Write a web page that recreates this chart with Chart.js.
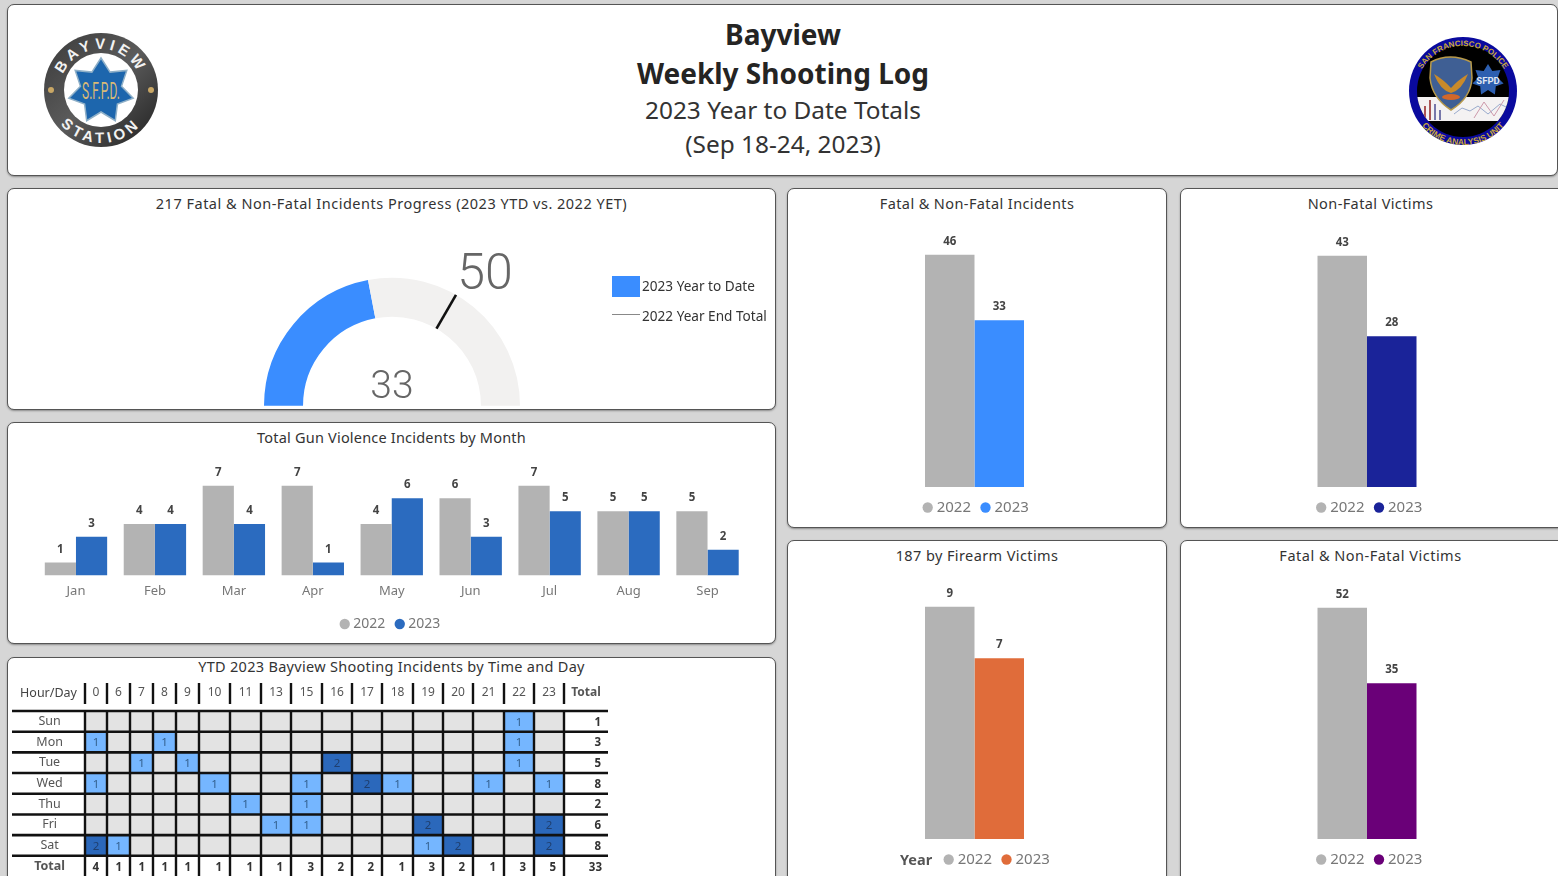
<!DOCTYPE html>
<html><head><meta charset="utf-8">
<script src="https://cdn.jsdelivr.net/npm/chart.js@4"></script>
<style>
html,body{margin:0;padding:0;width:1558px;height:876px;overflow:hidden;background:#d6d6d6;font-family:"Noto Sans",sans-serif;color:#252423}
.panel{position:absolute;background:#fff;border:1.5px solid #555;border-radius:7px;box-sizing:border-box;box-shadow:0 1px 2px rgba(0,0,0,.35)}
canvas{position:absolute;display:block}
.t{position:absolute;left:0;right:0;text-align:center;font-size:14.5px;letter-spacing:.4px;color:#333;white-space:nowrap;line-height:20px}
.abs{position:absolute;white-space:nowrap}
.h{position:absolute;left:4px;width:1558px;text-align:center;white-space:nowrap}
</style></head><body>
<div class="panel" style="left:7px;top:4px;width:1551px;height:172px"></div>
<div class="h" style="top:15px;font:700 28px 'Noto Sans';color:#252423">Bayview</div>
<div class="h" style="top:54px;font:700 28px 'Noto Sans';color:#252423">Weekly Shooting Log</div>
<div class="h" style="top:93px;font:400 24.4px 'Noto Sans';color:#333">2023 Year to Date Totals</div>
<div class="h" style="top:127px;font:400 24.4px 'Noto Sans';color:#333">(Sep 18-24, 2023)</div>
<svg id="logoA" class="abs" style="left:40px;top:29px" width="122" height="122" viewBox="0 0 122 122"></svg>
<svg id="logoB" class="abs" style="left:1404px;top:32px" width="118" height="118" viewBox="0 0 118 118"></svg>

<div class="panel" id="pGauge" style="left:7px;top:188px;width:769px;height:222px"><div class="t" style="top:4px;letter-spacing:.5px">217 Fatal &amp; Non-Fatal Incidents Progress (2023 YTD vs. 2022 YET)</div><canvas id="cGauge"></canvas>
<div class="abs" style="left:604px;top:87px;width:28px;height:21px;background:#3a8dff"></div>
<div class="abs" style="left:634px;top:87px;font-size:13.6px;color:#333">2023 Year to Date</div>
<div class="abs" style="left:604px;top:125px;width:28px;height:1px;background:#888"></div>
<div class="abs" style="left:634px;top:117px;font-size:13.6px;color:#333">2022 Year End Total</div>
</div>
<div class="panel" id="pMonth" style="left:7px;top:422px;width:769px;height:222px"><div class="t" style="top:4px;letter-spacing:.2px">Total Gun Violence Incidents by Month</div><canvas id="cMonth"></canvas></div>
<div class="panel" id="pTable" style="left:7px;top:657px;width:769px;height:240px"><div class="t" style="top:-2px;letter-spacing:.3px">YTD 2023 Bayview Shooting Incidents by Time and Day</div><canvas id="cTable"></canvas></div>
<div class="panel" id="pA" style="left:787px;top:188px;width:380px;height:340px"><div class="t" style="top:4px">Fatal &amp; Non-Fatal Incidents</div><canvas id="cA"></canvas></div>
<div class="panel" id="pB" style="left:1180px;top:188px;width:400px;height:340px"><div class="t" style="top:4px;right:19px">Non-Fatal Victims</div><canvas id="cB"></canvas></div>
<div class="panel" id="pC" style="left:787px;top:540px;width:380px;height:360px"><div class="t" style="top:4px">187 by Firearm Victims</div><canvas id="cC"></canvas>
<div class="abs" style="left:112px;top:308px;font-size:14.5px;font-weight:700;color:#555;line-height:20px">Year</div></div>
<div class="panel" id="pD" style="left:1180px;top:540px;width:400px;height:360px"><div class="t" style="top:4px;right:19px;letter-spacing:.5px">Fatal &amp; Non-Fatal Victims</div><canvas id="cD"></canvas></div>

<script>
// ---------- data ----------
const years = ['2022','2023'];
const months = ['Jan','Feb','Mar','Apr','May','Jun','Jul','Aug','Sep'];
const monthly2022 = [1,4,7,7,4,6,7,5,5];
const monthly2023 = [3,4,4,1,6,3,5,5,2];
const incidents = [46,33];
const nonFatalVictims = [43,28];
const firearmVictims = [9,7];
const allVictims = [52,35];
const gaugeValue = 33;
const gaugeTarget = 50;
const gaugeMax = 75;
const hours = ['0','6','7','8','9','10','11','13','15','16','17','18','19','20','21','22','23'];
const days = ['Sun','Mon','Tue','Wed','Thu','Fri','Sat'];
const rowSun = [0,0,0,0,0,0,0,0,0,0,0,0,0,0,0,1,0];
const rowMon = [1,0,0,1,0,0,0,0,0,0,0,0,0,0,0,1,0];
const rowTue = [0,0,1,0,1,0,0,0,0,2,0,0,0,0,0,1,0];
const rowWed = [1,0,0,0,0,1,0,0,1,0,2,1,0,0,1,0,1];
const rowThu = [0,0,0,0,0,0,1,0,1,0,0,0,0,0,0,0,0];
const rowFri = [0,0,0,0,0,0,0,1,1,0,0,0,2,0,0,0,2];
const rowSat = [2,1,0,0,0,0,0,0,0,0,0,0,1,2,0,0,2];
const rowTotals = [1,3,5,8,2,6,8];
const hourTotals = [4,1,1,1,1,1,1,1,3,2,2,1,3,2,1,3,5];
const grandTotal = 33;
// ---------- layout of the table (column widths, px) ----------
const colWidths = [22,23,23,23,23,31,31,30,31,30,30,31,30,30,31,30,30,44];

const FONT = "'Noto Sans',sans-serif";
Chart.defaults.font.family = FONT;
Chart.defaults.animation = false;
Chart.defaults.events = [];
Chart.defaults.plugins.tooltip.enabled = false;
Chart.defaults.responsive = false;

function size(id,l,t,w,h){const c=document.getElementById(id);c.width=w;c.height=h;c.style.left=l+'px';c.style.top=t+'px';c.style.width=w+'px';c.style.height=h+'px';return c;}

const valueLabels = {id:'valueLabels',afterDatasetsDraw(chart){
  const ctx=chart.ctx;ctx.save();ctx.font="700 11.5px "+FONT;ctx.fillStyle='#444';ctx.textAlign='center';ctx.textBaseline='alphabetic';
  chart.data.datasets.forEach((ds,i)=>chart.getDatasetMeta(i).data.forEach((b,j)=>{ctx.fillText(ds.data[j],b.x,b.y-10);}));
  ctx.restore();}};

const legendOpts=fs=>({display:true,position:'bottom',labels:{usePointStyle:true,pointStyle:'circle',boxWidth:3,boxHeight:7.3,color:'#777',font:{size:fs},padding:13}});

function yearChart(id,w,h,vals,color,padL,padR,padTop,padBot,legendShift){
  const c=size(id,0,0,w,h);
  const shift={id:'legendShift',afterLayout(chart){chart.legend.left+=legendShift*2;}};
  return new Chart(c,{type:'bar',plugins:[valueLabels,shift],
    data:{labels:['Year'],datasets:[
      {label:years[0],data:[vals[0]],backgroundColor:'#b3b3b3',borderWidth:0},
      {label:years[1],data:[vals[1]],backgroundColor:color,borderWidth:0}]},
    options:{layout:{autoPadding:false,padding:{left:padL,right:padR,top:padTop,bottom:padBot}},
      scales:{x:{display:false,grid:{display:false}},y:{display:false,min:0,max:Math.max(...vals)}},
      datasets:{bar:{categoryPercentage:0.495,barPercentage:1}},
      plugins:{legend:legendOpts(15)}}});
}
yearChart('cA',377,337,incidents,'#3a8dff',86.5,90.5,65.5,1,3);
yearChart('cB',397,337,nonFatalVictims,'#1a2399',86,111,66.5,1,4);
yearChart('cC',377,357,firearmVictims,'#e06c3a',86.5,90.5,65.5,21,24);
yearChart('cD',397,357,allVictims,'#6a0078',86,111,66.5,21,4);

// ---------- monthly ----------
new Chart(size('cMonth',0,0,766,219),{type:'bar',plugins:[valueLabels],
  data:{labels:months,datasets:[
    {label:years[0],data:monthly2022,backgroundColor:'#b3b3b3',borderWidth:0},
    {label:years[1],data:monthly2023,backgroundColor:'#2b6bbf',borderWidth:0}]},
  options:{layout:{autoPadding:false,padding:{left:28.5,right:27,top:62.5,bottom:1}},
    datasets:{bar:{categoryPercentage:0.79,barPercentage:1}},
    scales:{x:{grid:{display:false},border:{display:false},ticks:{color:'#777',font:{size:13},padding:0},afterFit(s){s.height+=5;}},
            y:{display:false,min:0,max:Math.max(...monthly2022,...monthly2023)}},
    plugins:{legend:legendOpts(14)}}});

// ---------- gauge ----------
const gaugeExtras={id:'gaugeExtras',afterDatasetsDraw(chart){
  const arc=chart.getDatasetMeta(0).data[0],ctx=chart.ctx;
  const a=Math.PI+Math.PI*gaugeTarget/gaugeMax,cx=arc.x,cy=arc.y,ro=arc.outerRadius,ri=arc.innerRadius;
  ctx.save();ctx.strokeStyle='#111';ctx.lineWidth=2.6;ctx.beginPath();
  ctx.moveTo(cx+Math.cos(a)*ri,cy+Math.sin(a)*ri);ctx.lineTo(cx+Math.cos(a)*ro,cy+Math.sin(a)*ro);ctx.stroke();
  ctx.fillStyle='#666';ctx.textAlign='center';ctx.textBaseline='middle';
  ctx.font="300 50px Roboto";ctx.fillText(gaugeTarget,cx+Math.cos(a)*ro+29,cy+Math.sin(a)*ro-18);
  ctx.font="300 39px Roboto";ctx.fillText(gaugeValue,cx,cy-18);
  ctx.restore();}};
new Chart(size('cGauge',0,0,766,219),{type:'doughnut',plugins:[gaugeExtras],
  data:{labels:['2023 Year to Date','Remaining'],datasets:[{data:[gaugeValue,gaugeMax-gaugeValue],backgroundColor:['#3a8dff','#f2f1f0'],borderWidth:0}]},
  options:{rotation:-90,circumference:180,cutout:'69.5%',
    layout:{padding:{left:256,right:254,top:88.5,bottom:2}},plugins:{legend:{display:false}}}});

// ---------- table ----------
const rows=[rowSun,rowMon,rowTue,rowWed,rowThu,rowFri,rowSat];
const edges=colWidths.reduce((a,w)=>{a.push(a[a.length-1]+w);return a;},[0]);
const colLabels=hours.concat(['Total']);
const rowLabels=days.concat(['Total']);
const cellColor=v=>v===2?'#2b68bb':v===1?'#75b6ff':'#e3e3e3';
const tableDs=hours.map((h,c)=>({label:h,grouped:false,borderWidth:0,
  data:rows.map(()=>[edges[c],edges[c+1]]).concat([null]),
  backgroundColor:rows.map(r=>cellColor(r[c])).concat(['#fff'])}));
const tablePlugin={id:'tableLines',afterDatasetsDraw(chart){
  const ctx=chart.ctx,x=chart.scales.x,y=chart.scales.y,a=chart.chartArea;
  const rowH=(a.bottom-a.top)/rowLabels.length,tableLeft=y.left;
  ctx.save();
  ctx.strokeStyle='#111';
  edges.slice(0,-1).forEach(e=>{const px=Math.round(x.getPixelForValue(e));ctx.lineWidth=2.4;
    ctx.beginPath();ctx.moveTo(px,a.top-28);ctx.lineTo(px,a.top-7);ctx.moveTo(px,a.top);ctx.lineTo(px,a.bottom);ctx.stroke();});
  ctx.lineWidth=2.6;
  for(let i=0;i<rowLabels.length;i++){const py=a.top+i*rowH;ctx.beginPath();ctx.moveTo(tableLeft,py);ctx.lineTo(a.right,py);ctx.stroke();}
  ctx.textBaseline='middle';
  ctx.font="11.5px "+FONT;ctx.textAlign='center';
  rows.forEach((r,ri)=>{const py=y.getPixelForValue(ri);
    r.forEach((v,c)=>{if(v){ctx.fillStyle=v===2?'#1f3f6f':'#33608f';ctx.fillText(v,x.getPixelForValue((edges[c]+edges[c+1])/2),py+1);}});
  });
  ctx.font="700 11.5px "+FONT;ctx.textAlign='right';ctx.fillStyle='#333';
  rowTotals.forEach((v,ri)=>ctx.fillText(v,a.right-7,y.getPixelForValue(ri)+1));
  const ty=y.getPixelForValue(rowLabels.length-1)+2;
  hourTotals.forEach((v,c)=>ctx.fillText(v,x.getPixelForValue(edges[c+1])-8,ty));
  ctx.fillText(grandTotal,a.right-6,ty);
  ctx.font="12.5px "+FONT;ctx.textAlign='center';ctx.fillStyle='#444';
  ctx.fillText('Hour/Day',(tableLeft+a.left)/2,a.top-18);
  ctx.restore();}};
new Chart(size('cTable',0,0,766,238),{type:'bar',plugins:[tablePlugin],
  data:{labels:rowLabels,datasets:tableDs},
  options:{indexAxis:'y',layout:{autoPadding:false,padding:{left:4,right:166,top:24,bottom:3}},
    datasets:{bar:{categoryPercentage:1,barPercentage:1}},
    scales:{
      x:{type:'linear',position:'top',min:0,max:edges[edges.length-1],grid:{display:false},border:{display:false},
        afterBuildTicks(s){s.ticks=colLabels.map((l,i)=>({value:(edges[i]+edges[i+1])/2}));},
        afterFit(s){s.height=29;},
        ticks:{autoSkip:false,maxRotation:0,padding:3,color:'#555',
          font:c=>c.index===colLabels.length-1?{size:12,weight:'700'}:{size:12},
          callback:(v,i)=>colLabels[i]}},
      y:{type:'category',grid:{display:false},border:{display:false},
        afterFit(s){s.width=73;},
        ticks:{crossAlign:'center',padding:12,autoSkip:false,color:'#555',
          font:c=>c.index===rowLabels.length-1?{size:12.5,weight:'700'}:{size:12.5}}}},
    plugins:{legend:{display:false}}}});

// ---------- logos ----------
function star(cx,cy,R,r,n){let p=[];for(let i=0;i<2*n;i++){const a=-Math.PI/2+i*Math.PI/n,q=i%2?r:R;p.push((cx+q*Math.cos(a)).toFixed(1)+','+(cy+q*Math.sin(a)).toFixed(1));}return p.join(' ');}
document.getElementById('logoA').innerHTML=`
<defs><linearGradient id="ring" x1="0" y1="0" x2="1" y2="1"><stop offset="0" stop-color="#3a3a3a"/><stop offset=".5" stop-color="#5b5b5b"/><stop offset="1" stop-color="#1f1f1f"/></linearGradient>
<path id="arcTop" d="M 20 61 A 41 41 0 0 1 102 61"/><path id="arcBot" d="M 8 61 A 53 53 0 0 0 114 61"/></defs>
<circle cx="61" cy="61" r="57" fill="url(#ring)"/><circle cx="61" cy="61" r="37" fill="#fff"/>
<polygon points="${star(61,62,33,21,7)}" fill="#1d66ad" stroke="#8fb0c8" stroke-width="1.5"/>
<text x="61" y="70" text-anchor="middle" font-family="Roboto" font-size="23" fill="#d8b976" textLength="38" lengthAdjust="spacingAndGlyphs">S.F.P.D.</text>
<text font-family="'Liberation Sans'" font-weight="700" font-size="15" fill="#f2f2f2" letter-spacing="4"><textPath href="#arcTop" startOffset="50%" text-anchor="middle">BAYVIEW</textPath></text>
<text font-family="'Liberation Sans'" font-weight="700" font-size="15" fill="#f2f2f2" letter-spacing="4"><textPath href="#arcBot" startOffset="50%" text-anchor="middle">STATION</textPath></text>
<circle cx="11" cy="61" r="3" fill="#c9a765"/><circle cx="111" cy="61" r="3" fill="#c9a765"/>`;
document.getElementById('logoB').innerHTML=`
<defs><clipPath id="inner"><circle cx="59" cy="59" r="46"/></clipPath>
<path id="b1" d="M 11 62 A 48 48 0 0 1 107 62"/><path id="b2" d="M 5 59 A 54 54 0 0 0 113 59"/></defs>
<circle cx="59" cy="59" r="54" fill="#0a0a9e"/><circle cx="59" cy="59" r="46" fill="#000"/>
<g clip-path="url(#inner)"><rect x="13" y="65" width="92" height="24" fill="#f4f2f2"/>
<rect x="20" y="74" width="2" height="14" fill="#a55"/><rect x="25" y="68" width="2" height="20" fill="#a55"/><rect x="30" y="72" width="2" height="16" fill="#77a"/><rect x="35" y="78" width="2" height="10" fill="#77a"/>
<polyline points="50,82 58,76 66,79 74,74 84,82 96,72 104,76" fill="none" stroke="#9ac" stroke-width="1"/><polyline points="70,86 80,70 90,84 100,68" fill="none" stroke="#c9a" stroke-width="1"/></g>
<path d="M 27 30 Q 46 20 67 30 L 68 46 Q 67 66 47 78 Q 28 66 26 46 Z" fill="#3f5f94" stroke="#b89a4a" stroke-width="1.5"/>
<path d="M 30 42 Q 40 48 47 56 Q 54 48 64 42 Q 58 58 47 61 Q 36 58 30 42Z" fill="#c98a2a"/><ellipse cx="47" cy="65" rx="9" ry="3" fill="#d3672a"/>
<polygon points="${star(84,48,16,10,7)}" fill="#2d5fb0"/>
<text x="84" y="52" text-anchor="middle" font-family="Roboto" font-size="9.5" font-weight="700" fill="#dfe6f2">SFPD</text>
<text font-family="'Liberation Sans'" font-size="8" font-weight="700" fill="#c9a83a"><textPath href="#b1" startOffset="50%" text-anchor="middle">SAN FRANCISCO POLICE</textPath></text>
<text font-family="'Liberation Sans'" font-size="8.5" font-weight="700" fill="#c9a83a"><textPath href="#b2" startOffset="50%" text-anchor="middle">CRIME ANALYSIS UNIT</textPath></text>`;
</script>
</body></html>
